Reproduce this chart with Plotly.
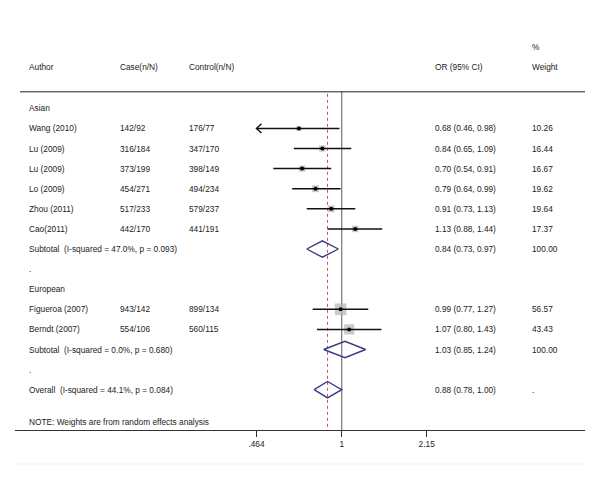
import math
import plotly.graph_objects as go

# ---------------- data ----------------
authors = ["Wang (2010)", "Lu (2009)", "Lu (2009)", "Lo (2009)", "Zhou (2011)",
           "Cao(2011)", "Figueroa (2007)", "Berndt (2007)"]
cases = ["142/92", "316/184", "373/199", "454/271", "517/233", "442/170", "943/142", "554/106"]
controls = ["176/77", "347/170", "398/149", "494/234", "579/237", "441/191", "899/134", "560/115"]
or_est = [0.68, 0.84, 0.70, 0.79, 0.91, 1.13, 0.99, 1.07]
or_lo = [0.46, 0.65, 0.54, 0.64, 0.73, 0.88, 0.77, 0.80]
or_hi = [0.98, 1.09, 0.91, 0.99, 1.13, 1.44, 1.27, 1.43]
weights = [10.26, 16.44, 16.67, 19.62, 19.64, 17.37, 56.57, 43.43]
study_rows = [1, 2, 3, 4, 5, 6, 10, 11]

group_labels = ["Asian", "European"]
group_rows = [0, 9]
dot_rows = [8, 13]

sub_labels = ["Subtotal  (I-squared = 47.0%, p = 0.093)",
              "Subtotal  (I-squared = 0.0%, p = 0.680)",
              "Overall  (I-squared = 44.1%, p = 0.084)"]
sub_est = [0.84, 1.03, 0.88]
sub_lo = [0.73, 0.85, 0.78]
sub_hi = [0.97, 1.24, 1.00]
sub_weight = ["100.00", "100.00", "."]
sub_rows = [7, 12, 14]

note_text = "NOTE: Weights are from random effects analysis"
note_row = 15.6

tick_vals = [0.464, 1, 2.15]
tick_text = [".464", "1", "2.15"]
x_min = 0.464  # axis clip for CIs

# ---------------- layout constants ----------------
W, H = 600, 479
ML, MR, MT, MB = 15, 15, 0, 49
PW = W - ML - MR
x_range = [-1.2782, 0.9519]
y_range = [16.005, -5.388]
FONT = "Liberation Sans, Arial, sans-serif"
FS = 8.3
TXT = "#222222"


def px(x_pixel):
    return (x_pixel - ML) / PW


fig = go.Figure()

# CI lines (clipped at axis minimum)
ci_x, ci_y = [], []
arrow_x, arrow_y = [], []
for r, lo_, hi_ in zip(study_rows, or_lo, or_hi):
    lo_c = max(lo_, x_min)
    ci_x += [lo_c, hi_, None]
    ci_y += [r, r, None]
    if lo_ < x_min:
        f = 10 ** (5 / 255.6)
        arrow_x += [lo_c * f, lo_c, lo_c * f, None]
        arrow_y += [r - 0.23, r, r + 0.23, None]

# reference lines
fig.add_trace(go.Scatter(x=[1, 1], y=[-0.82, 16.005], mode="lines",
                         line=dict(color="#808080", width=1.3), hoverinfo="skip"))
fig.add_trace(go.Scatter(x=[sub_est[2], sub_est[2]], y=[-0.72, 16.005], mode="lines",
                         line=dict(color="#c8506e", width=1, dash="3px,3px"), hoverinfo="skip"))

# weight boxes
fig.add_trace(go.Scatter(x=or_est, y=study_rows, mode="markers",
                         marker=dict(symbol="square", color="#b4b4b4",
                                     size=[1.55 * math.sqrt(w) for w in weights],
                                     line=dict(width=0)),
                         hoverinfo="skip"))
fig.add_trace(go.Scatter(x=ci_x, y=ci_y, mode="lines",
                         line=dict(color="#111111", width=1.5), hoverinfo="skip"))
fig.add_trace(go.Scatter(x=arrow_x, y=arrow_y, mode="lines",
                         line=dict(color="#111111", width=1.4), hoverinfo="skip"))
fig.add_trace(go.Scatter(x=or_est, y=study_rows, mode="markers",
                         marker=dict(symbol="circle", color="#000000", size=4),
                         hoverinfo="skip"))

# diamonds
for r, e, lo_, hi_ in zip(sub_rows, sub_est, sub_lo, sub_hi):
    fig.add_trace(go.Scatter(x=[lo_, e, hi_, e, lo_], y=[r, r - 0.41, r, r + 0.41, r],
                             mode="lines", line=dict(color="#3a3a7f", width=1.4),
                             hoverinfo="skip"))

# ---------------- text ----------------
ann = []


def add_text(x_pixel, y, s):
    ann.append(dict(x=px(x_pixel), y=y, xref="paper", yref="y", text=s,
                    showarrow=False, xanchor="left", yanchor="middle",
                    font=dict(family=FONT, size=FS, color=TXT)))


# header
add_text(530, -3.06, "%")
add_text(27, -2.07, "Author")
add_text(118, -2.07, "Case(n/N)")
add_text(187, -2.07, "Control(n/N)")
add_text(433, -2.07, "OR (95% CI)")
add_text(530, -2.07, "Weight")

for lab, r in zip(group_labels, group_rows):
    add_text(27, r, lab)
for r in dot_rows:
    add_text(27, r, ".")

for a, c, k, e, lo_, hi_, w, r in zip(authors, cases, controls, or_est, or_lo, or_hi,
                                      weights, study_rows):
    add_text(27, r, a)
    add_text(118, r, c)
    add_text(187, r, k)
    add_text(433, r, f"{e:.2f} ({lo_:.2f}, {hi_:.2f})")
    add_text(530, r, f"{w:.2f}")

for lab, e, lo_, hi_, w, r in zip(sub_labels, sub_est, sub_lo, sub_hi, sub_weight, sub_rows):
    add_text(27, r, lab)
    add_text(433, r, f"{e:.2f} ({lo_:.2f}, {hi_:.2f})")
    add_text(530, r, w)

add_text(27, note_row, note_text)

shapes = [
    dict(type="line", xref="paper", yref="y", x0=px(20), x1=1, y0=-0.82, y1=-0.82,
         line=dict(color="#222222", width=1)),
    dict(type="line", xref="paper", yref="paper", x0=px(16), x1=1,
         y0=-34 / 430, y1=-34 / 430, line=dict(color="#f0f0f0", width=1)),
]

fig.update_layout(
    width=W, height=H,
    margin=dict(l=ML, r=MR, t=MT, b=MB),
    paper_bgcolor="white", plot_bgcolor="white",
    showlegend=False, hovermode=False,
    annotations=ann, shapes=shapes,
    xaxis=dict(type="log", range=x_range, showgrid=False, zeroline=False,
               showline=True, linecolor="#333333", linewidth=1,
               ticks="outside", ticklen=6, tickcolor="#333333", tickwidth=1,
               tickvals=tick_vals, ticktext=tick_text,
               tickfont=dict(family=FONT, size=FS, color=TXT)),
    yaxis=dict(range=y_range, visible=False, showgrid=False, zeroline=False),
)

fig.write_html("out.html", config={"displayModeBar": False},
               post_script="document.body.style.margin='0';document.body.style.overflow='hidden';")
